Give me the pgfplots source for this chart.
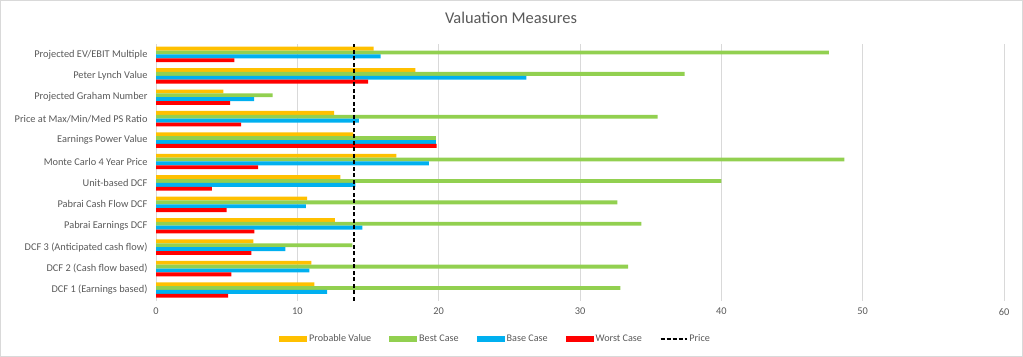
\documentclass[border=0pt]{standalone}
\usepackage{pgfplots}
\pgfplotsset{compat=1.18}
\usepackage{fontspec}
\setmainfont{Carlito}
\definecolor{cProb}{HTML}{FFC000}
\definecolor{cBest}{HTML}{92D050}
\definecolor{cBase}{HTML}{00B0F0}
\definecolor{cWorst}{HTML}{FF0000}
\definecolor{cGrid}{HTML}{D9D9D9}
\definecolor{cText}{HTML}{595959}
\begin{document}
\begin{tikzpicture}
\useasboundingbox (0,0) rectangle (1023bp,357bp);
\draw[cGrid, line width=0.8bp] (0.4bp,0.4bp) rectangle (1022.6bp,356.6bp);
\node[text=cText, font=\fontsize{16.5}{19}\selectfont] at (511bp,339bp) {Valuation Measures};
\begin{axis}[
  at={(156bp,56.3bp)}, anchor=south west,
  scale only axis, width=848bp, height=257bp,
  xmin=0, xmax=60, ymin=-0.5, ymax=11.5,
  xtick={0,10,20,30,40,50,60},
  ytick={0,...,11},
  yticklabels={DCF 1 (Earnings based),DCF 2 (Cash flow based),DCF 3 (Anticipated cash flow),Pabrai Earnings DCF,Pabrai Cash Flow DCF,Unit-based DCF,Monte Carlo 4 Year Price,Earnings Power Value,Price at Max/Min/Med PS Ratio,Projected Graham Number,Peter Lynch Value,Projected EV/EBIT Multiple},
  /pgf/number format/assume math mode=true,
  tick label style={text=cText, font=\fontsize{10.4}{12.5}\selectfont},
  xticklabel style={yshift=-4bp},
  yticklabel style={xshift=-5bp},
  major tick length=0pt,
  xmajorgrids, grid style={cGrid, line width=0.8bp},
  axis line style={draw=none},
  bar width=0.18,
  legend style={at={(0.4004,-0.149)}, anchor=center, draw=none, fill=none,
    legend columns=-1, font=\fontsize{10.2}{12}\selectfont, text=cText,
    /tikz/every even column/.append style={column sep=16bp}},
  legend cell align=left,
]
\draw[cGrid, line width=0.8bp] (axis cs:0,-0.5) -- (axis cs:0,11.5);
\addplot[xbar, fill=cProb, draw=none, bar shift=0.27,
  legend image code/.code={\fill[cProb] (0bp,-3bp) rectangle (28bp,3bp);}]
  coordinates {(11.2,0) (11.0,1) (6.89,2) (12.65,3) (10.7,4) (13.05,5) (17.0,6) (13.97,7) (12.6,8) (4.77,9) (18.35,10) (15.4,11)};
\addlegendentry{Probable Value}
\addplot[xbar, fill=cBest, draw=none, bar shift=0.09,
  legend image code/.code={\fill[cBest] (0bp,-3bp) rectangle (28bp,3bp);}]
  coordinates {(32.85,0) (33.4,1) (13.9,2) (34.35,3) (32.65,4) (40.0,5) (48.7,6) (19.8,7) (35.5,8) (8.26,9) (37.4,10) (47.6,11)};
\addlegendentry{Best Case}
\addplot[xbar, fill=cBase, draw=none, bar shift=-0.09,
  legend image code/.code={\fill[cBase] (0bp,-3bp) rectangle (28bp,3bp);}]
  coordinates {(12.1,0) (10.85,1) (9.15,2) (14.6,3) (10.6,4) (14.1,5) (19.3,6) (19.8,7) (14.35,8) (6.94,9) (26.2,10) (15.9,11)};
\addlegendentry{Base Case}
\addplot[xbar, fill=cWorst, draw=none, bar shift=-0.27,
  legend image code/.code={\fill[cWorst] (0bp,-3bp) rectangle (28bp,3bp);}]
  coordinates {(5.1,0) (5.33,1) (6.75,2) (6.96,3) (5.0,4) (3.96,5) (7.22,6) (19.85,7) (6.02,8) (5.24,9) (15.0,10) (5.54,11)};
\addlegendentry{Worst Case}
\addplot[sharp plot, black, line width=1.8bp, dash pattern=on 4bp off 2.5bp,
  legend image code/.code={\draw[black, line width=1.5bp, dash pattern=on 4bp off 2bp] (0bp,0bp) -- (26bp,0bp);}]
  coordinates {(14,-0.5) (14,11.5)};
\addlegendentry{Price}
\end{axis}
\end{tikzpicture}
\end{document}
